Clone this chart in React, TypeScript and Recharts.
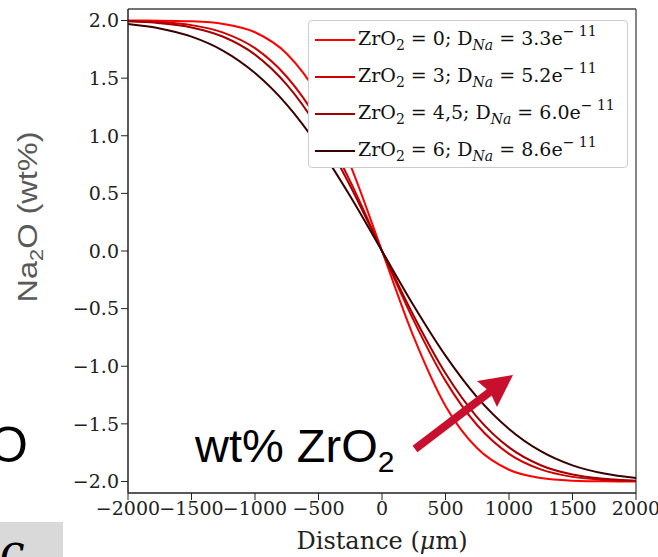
import { Line, LineChart, ReferenceLine, XAxis, YAxis } from "recharts";

const distances = [
  -2000, -1750, -1500, -1250, -1000, -750, -500, -250, 0, 250, 500, 750, 1000,
  1250, 1500, 1750, 2000,
];

// Na2O profiles, one per ZrO2 content
const zr0 = [
  2.0, 1.999, 1.993, 1.97, 1.898, 1.712, 1.344, 0.747, 0, -0.747, -1.344,
  -1.712, -1.898, -1.97, -1.993, -1.999, -2.0,
];
const zr3 = [
  1.996, 1.987, 1.96, 1.895, 1.76, 1.512, 1.127, 0.604, 0, -0.604, -1.127,
  -1.512, -1.76, -1.895, -1.96, -1.987, -1.996,
];
const zr45 = [
  1.993, 1.977, 1.94, 1.859, 1.704, 1.443, 1.061, 0.564, 0, -0.564, -1.061,
  -1.443, -1.704, -1.859, -1.94, -1.977, -1.993,
];
const zr6 = [
  1.969, 1.931, 1.86, 1.737, 1.544, 1.27, 0.908, 0.475, 0, -0.475, -0.908,
  -1.27, -1.544, -1.737, -1.86, -1.931, -1.969,
];

const zrLabels = ["0", "3", "4,5", "6"];
const dLabels = ["3.3", "5.2", "6.0", "8.6"];
const colors = ["#ff0000", "#d00000", "#a20000", "#3a0000"];
const keys = ["zr0", "zr3", "zr45", "zr6"];

const xTicks = [-2000, -1500, -1000, -500, 0, 500, 1000, 1500, 2000];
const yTicks = [-2, -1.5, -1, -0.5, 0, 0.5, 1, 1.5, 2];

const data = distances.map((d, i) => ({
  d,
  zr0: zr0[i],
  zr3: zr3[i],
  zr45: zr45[i],
  zr6: zr6[i],
}));

const serif = "'DejaVu Serif', serif";
const sans = "'Liberation Sans', Arial, sans-serif";

const minus = (s: string) => s.replace("-", "\u2212");

function LegendBox() {
  return (
    <div
      style={{
        position: "absolute",
        left: 308,
        top: 20,
        width: 320,
        height: 148,
        border: "1px solid #cccccc",
        borderRadius: 4,
        background: "#fff",
        fontFamily: serif,
        fontSize: 19,
        color: "#111",
        boxSizing: "border-box",
        paddingTop: 0,
      }}
    >
      {keys.map((k, i) => (
        <div
          key={k}
          style={{ display: "flex", alignItems: "center", height: 37, whiteSpace: "nowrap" }}
        >
          <div
            style={{
              width: 40,
              height: 2,
              background: colors[i],
              marginLeft: 6,
              marginRight: 3,
            }}
          />
          <span>
            ZrO<sub style={{ fontSize: 14 }}>2</sub> = {zrLabels[i]}; D
            <sub style={{ fontSize: 14, fontStyle: "italic" }}>Na</sub> = {dLabels[i]}e
            <sup style={{ fontSize: 14, position: "relative", top: -2 }}>{"\u2212"} 11</sup>
          </span>
        </div>
      ))}
    </div>
  );
}

export default function App() {
  return (
    <div style={{ position: "absolute", left: 0, top: 0, width: 658, height: 557, background: "#fff" }}>
      <LineChart
        width={658}
        height={557}
        data={data}
        margin={{ top: 9, right: 22, bottom: 0, left: 0 }}
      >
        <XAxis
          dataKey="d"
          type="number"
          domain={[-2000, 2000]}
          ticks={xTicks}
          interval={0}
          height={64}
          tickSize={7}
          axisLine={{ stroke: "#222", strokeWidth: 1.5 }}
          tickLine={{ stroke: "#222" }}
          tick={{ fontFamily: serif, fontSize: 19, fill: "#222" }}
          tickFormatter={(v: number) => minus(String(v))}
          label={{
            content: () => (
              <text x={382} y={549} textAnchor="middle" fontFamily={serif} fontSize={24} fill="#222">
                Distance (<tspan fontStyle="italic">μ</tspan>m)
              </text>
            ),
          }}
        />
        <YAxis
          type="number"
          domain={[-2.1, 2.1]}
          ticks={yTicks}
          interval={0}
          width={128}
          tickSize={7}
          axisLine={{ stroke: "#222", strokeWidth: 1.5 }}
          tickLine={{ stroke: "#222" }}
          tick={{ fontFamily: serif, fontSize: 19, fill: "#222" }}
          tickFormatter={(v: number) => minus(v.toFixed(1))}
          label={{
            content: () => (
              <text
                x={0}
                y={0}
                transform="translate(37 217) rotate(-90)"
                textAnchor="middle"
                fontFamily={sans}
                fontSize={27}
                fill="#595959"
                textLength={171}
                lengthAdjust="spacingAndGlyphs"
              >
                Na<tspan fontSize={18} dy={6}>2</tspan>
                <tspan dy={-6}>O (wt%)</tspan>
              </text>
            ),
          }}
        />
        <ReferenceLine x={2000} stroke="#444" strokeWidth={1.3} />
        <ReferenceLine y={2.1} stroke="#444" strokeWidth={1.3} />
        {keys.map((k, i) => (
          <Line
            key={k}
            dataKey={k}
            type="monotone"
            stroke={colors[i]}
            strokeWidth={2}
            dot={false}
            isAnimationActive={false}
          />
        ))}
      </LineChart>
      <LegendBox />
      <svg
        width={658}
        height={557}
        style={{ position: "absolute", left: 0, top: 0, pointerEvents: "none" }}
      >
        <text x={-11} y={462} fontFamily={sans} fontSize={50} fill="#000">
          O
        </text>
        <rect x={0} y={522} width={63} height={40} fill="#d9d9d9" />
        <text x={0} y={566} fontFamily={serif} fontStyle="italic" fontSize={44} fill="#000">
          c
        </text>
        <text x={195} y={462} fontFamily={sans} fontSize={47} fill="#000">
          wt% ZrO<tspan fontSize={30} dy={10}>2</tspan>
        </text>
        <line x1={415} y1={449} x2={495} y2={388} stroke="#c8102e" strokeWidth={8} />
        <polygon points="513,375 477,381 490,392 497,407" fill="#c8102e" />
      </svg>
    </div>
  );
}
